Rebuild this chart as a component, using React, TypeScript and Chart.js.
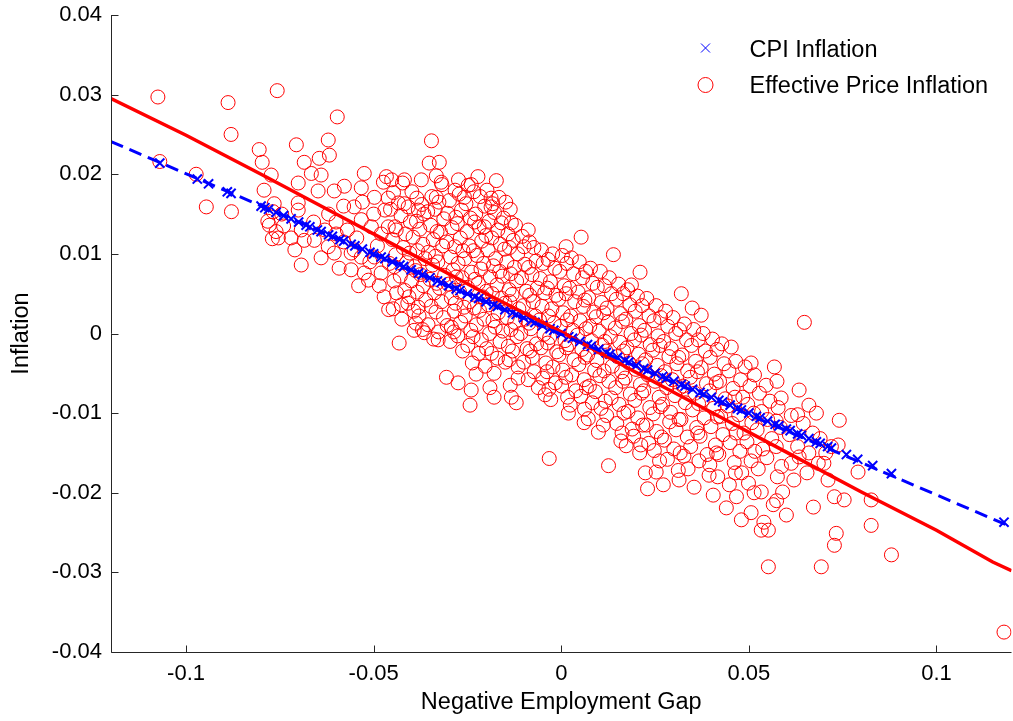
import React, { useEffect, useRef } from "react";
import { Chart, registerables } from "chart.js";
Chart.register(...registerables);

const FONT = '"Liberation Sans", Arial, sans-serif';

const xTicks = [-0.1, -0.05, 0, 0.05, 0.1];
const yTicks = [-0.04, -0.03, -0.02, -0.01, 0, 0.01, 0.02, 0.03, 0.04];
const xTitle = "Negative Employment Gap";
const yTitle = "Inflation";
const cpiLabel = "CPI Inflation";
const effLabel = "Effective Price Inflation";

// Effective price inflation scatter: [negative employment gap, inflation]
const effectivePrice: [number, number][] = [
  [-0.1075,0.0297],[-0.1070,0.0216],[-0.0973,0.0200],[-0.0946,0.0159],[-0.0888,0.0290],[-0.0880,0.0250],[-0.0879,0.0153],
  [-0.0805,0.0231],[-0.0797,0.0215],[-0.0792,0.0180],[-0.0773,0.0199],[-0.0765,0.0163],[-0.0782,0.0141],[-0.0760,0.0128],[-0.0757,0.0305],[-0.0745,0.0150],[-0.0770,0.0119],
  [-0.0701,0.0155],[-0.0778,0.0136],[-0.0685,0.0117],[-0.0754,0.0120],[-0.0768,0.0153],[-0.0693,0.0130],
  [-0.0645,0.0220],[-0.0621,0.0243],[-0.0618,0.0224],[-0.0666,0.0201],[-0.0685,0.0215],[-0.0706,0.0237],[-0.0640,0.0199],[-0.0648,0.0179],[-0.0605,0.0179],[-0.0701,0.0189],[-0.0701,0.0164],[-0.0597,0.0272],
  [-0.0600,0.0140],[-0.0570,0.0130],[-0.0580,0.0115],[-0.0545,0.0120],[-0.0560,0.0080],[-0.0540,0.0060],[-0.0510,0.0090],[-0.0490,0.0110],[-0.0500,0.0150],[-0.0580,0.0160],[-0.0620,0.0150],[-0.0600,0.0125],[-0.0660,0.0140],[-0.0630,0.0130],[-0.0720,0.0120],[-0.0740,0.0135],[-0.0710,0.0105],
  [-0.0578,0.0185],[-0.0498,0.0171],[-0.0552,0.0159],[-0.0533,0.0143],[-0.0506,0.0134],[-0.0461,0.0134],[-0.0440,0.0130],[-0.0498,0.0096],[-0.0525,0.0076],[-0.0480,0.0076],[-0.0445,0.0084],[-0.0514,0.0067],[-0.0472,0.0046],[-0.0426,0.0036],[-0.0381,0.0033],[-0.0392,0.0004],[-0.0365,0.0001],[-0.0432,-0.0012],[-0.0328,-0.0008],[-0.0293,0.0008],[-0.0560,0.0101],[-0.0533,0.0096],[-0.0605,0.0101],[-0.0621,0.0109],[-0.0658,0.0117],[-0.0640,0.0095],[-0.0693,0.0086],[-0.0592,0.0082],[-0.0552,0.0105],
  [-0.0525,0.0201],[-0.0466,0.0197],[-0.0474,0.0190],[-0.0418,0.0193],[-0.0373,0.0193],[-0.0320,0.0190],[-0.0274,0.0193],[-0.0240,0.0187],[-0.0346,0.0242],[-0.0325,0.0215],[-0.0533,0.0183],[-0.0461,0.0170],[-0.0434,0.0164],[-0.0408,0.0159],[-0.0381,0.0155],[-0.0333,0.0171],[-0.0258,0.0171],[-0.0187,0.0170],[-0.0187,0.0159],[-0.0160,0.0139],[-0.0205,0.0134],[-0.0099,0.0109],
  [-0.0452,0.0193],[-0.0447,0.0177],[-0.0455,0.0156],[-0.0443,0.0134],[-0.0450,0.0118],[-0.0441,0.0099],[-0.0458,0.0088],[-0.0446,0.0066],[-0.0439,0.0051],[-0.0448,0.0031],
  [-0.0423,0.0189],[-0.0418,0.0163],[-0.0427,0.0148],[-0.0415,0.0125],[-0.0421,0.0108],[-0.0412,0.0089],[-0.0429,0.0072],[-0.0417,0.0054],[-0.0409,0.0038],[-0.0425,0.0018],
  [-0.0398,0.0178],[-0.0402,0.0140],[-0.0395,0.0121],[-0.0404,0.0101],[-0.0391,0.0084],[-0.0399,0.0066],[-0.0406,0.0046],[-0.0393,0.0028],
  [-0.0372,0.0162],[-0.0366,0.0150],[-0.0377,0.0131],[-0.0369,0.0112],[-0.0363,0.0094],[-0.0375,0.0074],[-0.0368,0.0060],[-0.0361,0.0042],[-0.0379,0.0022],[-0.0370,0.0005],
  [-0.0352,0.0214],[-0.0345,0.0172],[-0.0356,0.0153],[-0.0348,0.0136],[-0.0341,0.0118],[-0.0354,0.0102],[-0.0343,0.0086],[-0.0350,0.0068],[-0.0338,0.0051],[-0.0347,0.0034],[-0.0355,0.0011],[-0.0340,-0.0007],
  [-0.0318,0.0187],[-0.0326,0.0165],[-0.0313,0.0144],[-0.0322,0.0127],[-0.0316,0.0110],[-0.0329,0.0090],[-0.0311,0.0073],[-0.0324,0.0057],[-0.0319,0.0040],[-0.0314,0.0020],[-0.0327,0.0002],
  [-0.0298,0.0167],[-0.0303,0.0151],[-0.0291,0.0133],[-0.0306,0.0115],[-0.0295,0.0096],[-0.0288,0.0080],[-0.0301,0.0062],[-0.0293,0.0045],[-0.0285,0.0028],[-0.0304,0.0010],[-0.0296,-0.0010],[-0.0306,-0.0055],
  [-0.0272,0.0175],[-0.0266,0.0155],[-0.0277,0.0138],[-0.0269,0.0120],[-0.0262,0.0104],[-0.0275,0.0088],[-0.0264,0.0070],[-0.0271,0.0052],[-0.0259,0.0033],[-0.0268,0.0014],[-0.0276,-0.0003],[-0.0263,-0.0022],[-0.0275,-0.0062],
  [-0.0248,0.0186],[-0.0254,0.0163],[-0.0242,0.0145],[-0.0251,0.0128],[-0.0245,0.0110],[-0.0257,0.0094],[-0.0239,0.0077],[-0.0250,0.0058],[-0.0244,0.0040],[-0.0256,0.0022],[-0.0241,0.0004],[-0.0249,-0.0015],[-0.0237,-0.0037],[-0.0240,-0.0071],[-0.0243,-0.0090],[-0.0227,-0.0051],
  [-0.0222,0.0197],[-0.0216,0.0172],[-0.0228,0.0150],[-0.0219,0.0134],[-0.0212,0.0116],[-0.0225,0.0098],[-0.0214,0.0081],[-0.0221,0.0063],[-0.0209,0.0046],[-0.0218,0.0029],[-0.0226,0.0011],[-0.0213,-0.0008],[-0.0220,-0.0025],
  [-0.0198,0.0180],[-0.0204,0.0160],[-0.0192,0.0141],[-0.0201,0.0123],[-0.0195,0.0105],[-0.0207,0.0088],[-0.0189,0.0071],[-0.0200,0.0053],[-0.0194,0.0036],[-0.0206,0.0018],[-0.0191,0.0000],[-0.0199,-0.0019],[-0.0203,-0.0041],[-0.0190,-0.0068],
  [-0.0173,0.0192],[-0.0166,0.0171],[-0.0178,0.0152],[-0.0169,0.0130],[-0.0162,0.0112],[-0.0175,0.0094],[-0.0164,0.0078],[-0.0171,0.0061],[-0.0159,0.0044],[-0.0168,0.0026],[-0.0176,0.0008],[-0.0163,-0.0010],[-0.0170,-0.0031],[-0.0179,-0.0050],[-0.0179,-0.0080],
  [-0.0148,0.0165],[-0.0154,0.0145],[-0.0142,0.0125],[-0.0151,0.0106],[-0.0145,0.0090],[-0.0157,0.0072],[-0.0139,0.0055],[-0.0150,0.0038],[-0.0144,0.0020],[-0.0156,0.0003],[-0.0141,-0.0016],[-0.0149,-0.0036],
  [-0.0133,0.0139],[-0.0122,0.0136],[-0.0128,0.0117],[-0.0116,0.0100],[-0.0125,0.0083],[-0.0119,0.0066],[-0.0131,0.0049],[-0.0113,0.0031],[-0.0124,0.0014],[-0.0118,-0.0004],[-0.0130,-0.0022],[-0.0115,-0.0042],[-0.0115,-0.0056],[-0.0133,-0.0080],[-0.0120,-0.0087],
  [-0.0104,0.0122],[-0.0097,0.0087],[-0.0106,0.0070],[-0.0093,0.0053],[-0.0101,0.0035],[-0.0095,0.0018],[-0.0108,0.0000],[-0.0091,-0.0019],[-0.0100,-0.0036],
  [-0.0088,0.0130],[-0.0073,0.0108],[-0.0067,0.0091],[-0.0078,0.0074],[-0.0064,0.0057],[-0.0075,0.0040],[-0.0069,0.0022],[-0.0081,0.0006],[-0.0066,-0.0013],[-0.0077,-0.0030],[-0.0061,-0.0068],[-0.0072,-0.0048],
  [-0.0053,0.0105],[-0.0048,0.0088],[-0.0056,0.0069],[-0.0044,0.0051],[-0.0051,0.0034],[-0.0058,0.0017],[-0.0046,-0.0001],[-0.0054,-0.0018],[-0.0041,-0.0037],[-0.0049,-0.0056],[-0.0043,-0.0077],[-0.0032,-0.0157],
  [-0.0023,0.0100],[-0.0017,0.0082],[-0.0029,0.0065],[-0.0014,0.0048],[-0.0025,0.0031],[-0.0019,0.0013],[-0.0031,-0.0005],[-0.0012,-0.0023],[-0.0022,-0.0042],[-0.0016,-0.0062],[-0.0028,-0.0083],
  [0.0003,0.0098],[-0.0004,0.0078],[0.0008,0.0060],[-0.0007,0.0043],[0.0005,0.0026],[-0.0002,0.0009],[0.0010,-0.0009],[-0.0006,-0.0027],[0.0004,-0.0046],[0.0001,-0.0066],[0.0019,-0.0100],[0.0013,0.0109],
  [0.0027,0.0095],[0.0033,0.0075],[0.0022,0.0057],[0.0036,0.0040],[0.0025,0.0022],[0.0031,0.0004],[0.0020,-0.0014],[0.0034,-0.0033],[0.0028,-0.0052],[0.0039,-0.0072],[0.0024,-0.0090],
  [0.0053,0.0121],[0.0048,0.0090],[0.0057,0.0070],[0.0045,0.0052],[0.0059,0.0034],[0.0050,0.0016],[0.0043,-0.0002],[0.0055,-0.0020],[0.0047,-0.0039],[0.0061,-0.0058],[0.0052,-0.0079],[0.0061,-0.0112],
  [0.0078,0.0082],[0.0084,0.0063],[0.0073,0.0045],[0.0087,0.0027],[0.0076,0.0009],[0.0081,-0.0009],[0.0070,-0.0027],[0.0089,-0.0046],[0.0075,-0.0066],[0.0083,-0.0087],[0.0072,-0.0107],
  [0.0099,-0.0124],[0.0104,0.0078],[0.0096,0.0058],[0.0107,0.0039],[0.0093,0.0021],[0.0101,0.0003],[0.0109,-0.0015],[0.0095,-0.0034],[0.0103,-0.0053],[0.0091,-0.0073],[0.0106,-0.0094],
  [0.0128,0.0070],[0.0134,0.0050],[0.0122,0.0032],[0.0139,0.0099],[0.0125,0.0014],[0.0131,-0.0004],[0.0119,-0.0022],[0.0136,-0.0041],[0.0127,-0.0060],[0.0133,-0.0081],[0.0121,-0.0103],[0.0126,-0.0166],
  [0.0153,0.0062],[0.0147,0.0043],[0.0158,0.0025],[0.0144,0.0007],[0.0156,-0.0011],[0.0150,-0.0029],[0.0161,-0.0048],[0.0145,-0.0068],[0.0154,-0.0089],[0.0148,-0.0113],[0.0159,-0.0135],
  [0.0187,0.0061],[0.0177,0.0055],[0.0183,0.0036],[0.0172,0.0018],[0.0186,0.0000],[0.0175,-0.0018],[0.0181,-0.0037],[0.0170,-0.0056],[0.0184,-0.0076],[0.0178,-0.0098],[0.0189,-0.0120],[0.0173,-0.0141],
  [0.0210,0.0077],[0.0203,0.0047],[0.0197,0.0028],[0.0208,0.0010],[0.0195,-0.0008],[0.0206,-0.0026],[0.0199,-0.0045],[0.0211,-0.0064],[0.0196,-0.0084],[0.0204,-0.0106],[0.0193,-0.0129],[0.0209,-0.0150],
  [0.0228,0.0044],[0.0234,0.0022],[0.0222,0.0004],[0.0237,-0.0014],[0.0225,-0.0033],[0.0231,-0.0052],[0.0220,-0.0072],[0.0236,-0.0093],[0.0227,-0.0115],[0.0233,-0.0138],[0.0224,-0.0175],[0.0230,-0.0195],
  [0.0253,0.0035],[0.0247,0.0016],[0.0258,-0.0003],[0.0244,-0.0021],[0.0256,-0.0040],[0.0250,-0.0060],[0.0261,-0.0080],[0.0245,-0.0101],[0.0254,-0.0123],[0.0248,-0.0147],[0.0253,-0.0174],
  [0.0278,0.0028],[0.0284,0.0009],[0.0273,-0.0010],[0.0287,-0.0029],[0.0276,-0.0048],[0.0281,-0.0068],[0.0270,-0.0089],[0.0289,-0.0111],[0.0275,-0.0134],[0.0283,-0.0158],[0.0272,-0.0190],
  [0.0320,0.0050],[0.0298,0.0020],[0.0305,0.0000],[0.0293,-0.0019],[0.0308,-0.0038],[0.0296,-0.0058],[0.0303,-0.0078],[0.0291,-0.0099],[0.0306,-0.0121],[0.0300,-0.0145],[0.0314,-0.0184],
  [0.0328,0.0012],[0.0334,-0.0008],[0.0322,-0.0027],[0.0337,-0.0047],[0.0325,-0.0066],[0.0331,-0.0087],[0.0319,-0.0108],[0.0336,-0.0130],[0.0327,-0.0154],[0.0338,-0.0170],
  [0.0349,0.0032],[0.0353,0.0005],[0.0347,-0.0015],[0.0358,-0.0035],[0.0344,-0.0055],[0.0356,-0.0075],[0.0350,-0.0096],[0.0361,-0.0118],[0.0345,-0.0142],[0.0354,-0.0193],
  [0.0373,0.0023],[0.0378,0.0000],[0.0384,-0.0022],[0.0373,-0.0043],[0.0387,-0.0063],[0.0376,-0.0084],[0.0381,-0.0106],[0.0370,-0.0129],[0.0389,-0.0152],[0.0394,-0.0178],
  [0.0403,-0.0007],[0.0397,-0.0030],[0.0408,-0.0051],[0.0395,-0.0072],[0.0406,-0.0094],[0.0399,-0.0117],[0.0411,-0.0140],[0.0396,-0.0165],[0.0405,-0.0203],
  [0.0428,-0.0013],[0.0434,-0.0038],[0.0422,-0.0060],[0.0437,-0.0082],[0.0425,-0.0104],[0.0431,-0.0127],[0.0420,-0.0152],[0.0440,-0.0219],
  [0.0453,-0.0017],[0.0447,-0.0047],[0.0458,-0.0069],[0.0444,-0.0091],[0.0456,-0.0113],[0.0450,-0.0137],[0.0461,-0.0162],[0.0448,-0.0190],
  [0.0490,-0.0042],[0.0478,-0.0058],[0.0484,-0.0080],[0.0473,-0.0102],[0.0487,-0.0125],[0.0476,-0.0148],[0.0481,-0.0175],[0.0480,-0.0234],
  [0.0506,-0.0037],[0.0503,-0.0066],[0.0497,-0.0089],[0.0508,-0.0112],[0.0495,-0.0136],[0.0506,-0.0160],[0.0499,-0.0188],[0.0506,-0.0225],
  [0.0528,-0.0075],[0.0534,-0.0098],[0.0522,-0.0121],[0.0537,-0.0145],[0.0525,-0.0170],[0.0533,-0.0199],[0.0540,-0.0237],[0.0533,-0.0247],[0.0552,-0.0247],
  [0.0546,-0.0065],[0.0568,-0.0042],[0.0556,-0.0085],[0.0550,-0.0108],[0.0561,-0.0132],[0.0548,-0.0156],[0.0565,-0.0215],[0.0552,-0.0293],
  [0.0586,-0.0081],[0.0578,-0.0093],[0.0584,-0.0118],[0.0573,-0.0142],[0.0587,-0.0167],[0.0590,-0.0199],[0.0600,-0.0228],
  [0.0634,-0.0071],[0.0613,-0.0103],[0.0608,-0.0127],[0.0630,-0.0102],[0.0645,-0.0113],[0.0630,-0.0142],[0.0613,-0.0163],[0.0620,-0.0184],[0.0634,-0.0155],
  [0.0648,0.0014],[0.0685,-0.0163],[0.0700,-0.0163],[0.0711,-0.0184],[0.0728,-0.0205],[0.0672,-0.0218],[0.0754,-0.0209],[0.0741,-0.0109],[0.0738,-0.0140],[0.0720,-0.0142],
  [0.0791,-0.0174],[0.0826,-0.0209],[0.0826,-0.0241],[0.0733,-0.0251],[0.0728,-0.0266],[0.0880,-0.0278],[0.0693,-0.0293],[0.0670,-0.0125],[0.0690,-0.0132],[0.0705,-0.0150],
  [0.0680,-0.0100],[0.0660,-0.0090],[0.0660,-0.0150],[0.0655,-0.0175],[0.1180,-0.0375],
  [-0.0385,0.0170],[-0.0386,0.0141],[-0.0383,0.0104],[-0.0388,0.0079],[-0.0384,0.0052],[-0.0387,0.0013],
  [-0.0333,0.0198],[-0.0336,0.0156],[-0.0331,0.0128],[-0.0335,0.0097],[-0.0332,0.0063],[-0.0334,0.0027],
  [-0.0283,0.0180],[-0.0281,0.0146],[-0.0284,0.0109],[-0.0280,0.0071],[-0.0282,0.0038],[-0.0286,0.0002],
  [-0.0233,0.0178],[-0.0231,0.0140],[-0.0234,0.0104],[-0.0230,0.0068],[-0.0232,0.0032],[-0.0235,-0.0004],
  [-0.0183,0.0163],[-0.0185,0.0120],[-0.0181,0.0085],[-0.0184,0.0050],[-0.0182,0.0016],[-0.0186,-0.0025],
  [-0.0136,0.0156],[-0.0138,0.0108],[-0.0135,0.0075],[-0.0137,0.0040],[-0.0134,0.0005],[-0.0139,-0.0033],[-0.0136,-0.0065],
  [-0.0085,0.0115],[-0.0087,0.0083],[-0.0084,0.0048],[-0.0086,0.0013],[-0.0083,-0.0022],[-0.0088,-0.0058],
  [-0.0035,0.0093],[-0.0037,0.0057],[-0.0034,0.0022],[-0.0036,-0.0012],[-0.0038,-0.0048],[-0.0033,-0.0070],
  [0.0015,0.0088],[0.0013,0.0050],[0.0016,0.0017],[0.0014,-0.0018],[0.0012,-0.0055],[0.0017,-0.0080],
  [0.0065,0.0078],[0.0063,0.0042],[0.0066,0.0006],[0.0064,-0.0030],[0.0067,-0.0068],[0.0062,-0.0095],
  [0.0115,0.0060],[0.0113,0.0026],[0.0116,-0.0010],[0.0114,-0.0047],[0.0117,-0.0085],[0.0112,-0.0115],
  [0.0165,0.0050],[0.0163,0.0015],[0.0166,-0.0022],[0.0164,-0.0060],[0.0167,-0.0100],[0.0162,-0.0125],
  [0.0215,0.0035],[0.0213,-0.0002],[0.0216,-0.0038],[0.0214,-0.0075],[0.0217,-0.0115],[0.0212,-0.0140],
  [0.0265,0.0020],[0.0263,-0.0015],[0.0266,-0.0053],[0.0264,-0.0092],[0.0267,-0.0130],[0.0262,-0.0160],
  [0.0315,0.0005],[0.0313,-0.0030],[0.0316,-0.0068],[0.0314,-0.0108],[0.0317,-0.0150],[0.0312,-0.0172],
  [0.0365,-0.0008],[0.0363,-0.0048],[0.0366,-0.0088],[0.0364,-0.0125],[0.0367,-0.0160],
  [0.0415,-0.0020],[0.0413,-0.0062],[0.0416,-0.0105],[0.0414,-0.0150],[0.0417,-0.0180],
  [0.0465,-0.0035],[0.0463,-0.0080],[0.0466,-0.0125],[0.0464,-0.0175],[0.0467,-0.0205],
  [0.0515,-0.0052],[0.0513,-0.0100],[0.0516,-0.0148],[0.0514,-0.0200],
  [0.0575,-0.0060],[0.0573,-0.0110],[0.0576,-0.0180],[0.0574,-0.0210],
  [-0.0480,0.0125],[-0.0485,0.0060],[-0.0530,0.0165],[-0.0470,0.0155],[-0.0460,0.0030],
];

// CPI inflation observations
const cpiX = [-0.107,-0.097,-0.094,-0.089,-0.088,-0.080,-0.079,-0.078,-0.076,-0.074,-0.072,-0.070,-0.068,-0.067,-0.065,-0.064,-0.062,-0.061,-0.059,-0.058,-0.056,-0.055,-0.053,-0.051,-0.050,-0.048,-0.047,-0.045,-0.043,-0.042,-0.040,-0.038,-0.037,-0.035,-0.033,-0.032,-0.030,-0.028,-0.027,-0.025,-0.023,-0.022,-0.020,-0.018,-0.017,-0.015,-0.013,-0.012,-0.010,-0.008,-0.007,-0.005,-0.003,-0.002,0.000,0.002,0.003,0.005,0.007,0.008,0.010,0.012,0.013,0.015,0.017,0.018,0.020,0.022,0.023,0.025,0.027,0.028,0.030,0.032,0.033,0.035,0.037,0.038,0.040,0.042,0.043,0.045,0.047,0.048,0.050,0.052,0.053,0.055,0.057,0.058,0.060,0.061,0.063,0.064,0.066,0.068,0.069,0.071,0.072,0.076,0.079,0.083,0.088,0.118];
const cpiY = [0.0214,0.0194,0.0188,0.0178,0.0176,0.0160,0.0158,0.0156,0.0152,0.0148,0.0144,0.0140,0.0136,0.0134,0.0130,0.0128,0.0124,0.0122,0.0118,0.0116,0.0112,0.0110,0.0106,0.0102,0.0100,0.0096,0.0094,0.0090,0.0086,0.0084,0.0080,0.0076,0.0074,0.0070,0.0066,0.0064,0.0060,0.0056,0.0054,0.0050,0.0046,0.0044,0.0040,0.0036,0.0034,0.0030,0.0026,0.0024,0.0020,0.0016,0.0014,0.0010,0.0006,0.0004,0.0000,-0.0004,-0.0006,-0.0010,-0.0014,-0.0016,-0.0020,-0.0024,-0.0026,-0.0030,-0.0034,-0.0036,-0.0040,-0.0044,-0.0046,-0.0050,-0.0054,-0.0056,-0.0060,-0.0064,-0.0066,-0.0070,-0.0074,-0.0076,-0.0080,-0.0084,-0.0086,-0.0090,-0.0094,-0.0096,-0.0100,-0.0104,-0.0106,-0.0110,-0.0114,-0.0116,-0.0120,-0.0122,-0.0126,-0.0128,-0.0132,-0.0136,-0.0138,-0.0142,-0.0144,-0.0152,-0.0158,-0.0166,-0.0176,-0.0237];

// Fitted lines
const cpiFitX = [-0.12, 0.12];
const cpiFitY = [0.0241, -0.0243];
const effFitX = [-0.12,-0.1,-0.08,-0.06,-0.04,-0.02,0,0.02,0.04,0.06,0.08,0.1,0.115,0.12];
const effFitY = [0.0295,0.0249,0.0200,0.0150,0.0100,0.0050,0.0002,-0.0049,-0.0099,-0.0149,-0.0199,-0.0247,-0.0287,-0.0298];

const RED = "#ff0000";
const BLUE = "#0000ff";
const AXIS = "#262626";

const fmt = (v: number) => {
  const n = Number(v);
  if (Math.abs(n) < 1e-12) return "0";
  return String(parseFloat(n.toFixed(3)));
};

const axesPlugin = {
  id: "matlabAxes",
  afterDatasetsDraw(chart: any) {
    const { ctx, chartArea: a, scales } = chart;
    const xs = scales.x, ys = scales.y;
    ctx.save();
    ctx.strokeStyle = AXIS;
    ctx.lineWidth = 1;
    const L = Math.round(a.left) + 0.5;
    const B = Math.round(a.bottom) + 0.5;
    ctx.beginPath();
    ctx.moveTo(L, a.top);
    ctx.lineTo(L, B);
    ctx.lineTo(a.right, B);
    xTicks.forEach((v) => {
      const p = Math.round(xs.getPixelForValue(v)) + 0.5;
      ctx.moveTo(p, B);
      ctx.lineTo(p, B - 7);
    });
    yTicks.forEach((v) => {
      const p = Math.round(ys.getPixelForValue(v)) + 0.5;
      ctx.moveTo(L, p);
      ctx.lineTo(L + 7, p);
    });
    ctx.stroke();

    // legend
    const mx = a.right - 306;
    const tx = a.right - 262;
    ctx.strokeStyle = BLUE;
    ctx.lineWidth = 1;
    ctx.beginPath();
    ctx.moveTo(mx - 4.5, 43.5); ctx.lineTo(mx + 4.5, 52.5);
    ctx.moveTo(mx + 4.5, 43.5); ctx.lineTo(mx - 4.5, 52.5);
    ctx.stroke();
    ctx.strokeStyle = RED;
    ctx.beginPath();
    ctx.arc(mx, 85, 7.5, 0, Math.PI * 2);
    ctx.stroke();
    ctx.fillStyle = "#000";
    ctx.font = `23.5px ${FONT}`;
    ctx.textAlign = "left";
    ctx.textBaseline = "alphabetic";
    ctx.fillText(cpiLabel, tx, 57);
    ctx.fillText(effLabel, tx, 93);
    ctx.restore();
  },
};

const CANVAS_W = 1020;
const CANVAS_H = 721;

export default function App() {
  const ref = useRef<HTMLCanvasElement | null>(null);
  useEffect(() => {
    if (!ref.current) return;
    const chart = new Chart(ref.current, {
      type: "scatter",
      data: {
        datasets: [
          {
            label: "CPI fit",
            data: cpiFitX.map((x, i) => ({ x, y: cpiFitY[i] })),
            showLine: true,
            borderColor: BLUE,
            borderWidth: 3,
            borderDash: [13, 7],
            pointRadius: 0,
            order: 1,
          },
          {
            label: "Effective price fit",
            data: effFitX.map((x, i) => ({ x, y: effFitY[i] })),
            showLine: true,
            borderColor: RED,
            borderWidth: 3.5,
            pointRadius: 0,
            order: 2,
          },
          {
            label: cpiLabel,
            data: cpiX.map((x, i) => ({ x, y: cpiY[i] })),
            pointStyle: "crossRot",
            pointRadius: 6.5,
            borderColor: BLUE,
            backgroundColor: BLUE,
            pointBorderWidth: 2,
            order: 3,
          },
          {
            label: effLabel,
            data: effectivePrice.map(([x, y]) => ({ x, y })),
            pointStyle: "circle",
            pointRadius: 7,
            borderColor: RED,
            backgroundColor: "rgba(0,0,0,0)",
            pointBorderWidth: 1,
            order: 4,
          },
        ],
      },
      options: {
        animation: false,
        responsive: false,
        maintainAspectRatio: false,
        layout: { padding: { top: 15, right: 2, left: 0, bottom: 0 } },
        plugins: {
          legend: { display: false },
          tooltip: { enabled: false },
          title: { display: false },
        },
        scales: {
          x: {
            type: "linear",
            min: -0.12,
            max: 0.12,
            afterBuildTicks: (s: any) => {
              s.ticks = xTicks.map((v) => ({ value: v }));
            },
            afterFit: (s: any) => {
              s.height = 69;
              s.paddingLeft = 0;
              s.paddingRight = 0;
            },
            grid: { display: false, drawTicks: false },
            border: { display: false },
            ticks: {
              padding: 9,
              maxRotation: 0,
              autoSkip: false,
              color: "#000",
              font: { family: FONT, size: 22 },
              callback: (v: any) => fmt(v),
            },
            title: {
              display: true,
              text: xTitle,
              color: "#000",
              font: { family: FONT, size: 23.5 },
              padding: { top: 0, bottom: 4 },
            },
          },
          y: {
            type: "linear",
            min: -0.04,
            max: 0.04,
            afterBuildTicks: (s: any) => {
              s.ticks = yTicks.map((v) => ({ value: v }));
            },
            afterFit: (s: any) => {
              s.width = 111;
              s.paddingTop = 0;
              s.paddingBottom = 0;
            },
            grid: { display: false, drawTicks: false },
            border: { display: false },
            ticks: {
              padding: 9,
              autoSkip: false,
              color: "#000",
              font: { family: FONT, size: 22 },
              callback: (v: any) => fmt(v),
            },
            title: {
              display: true,
              text: yTitle,
              color: "#000",
              font: { family: FONT, size: 23.5 },
              padding: { top: 7, bottom: 0 },
            },
          },
        },
      },
      plugins: [axesPlugin],
    });
    return () => chart.destroy();
  }, []);

  return (
    <div style={{ position: "fixed", left: 0, top: 0, width: 1013, height: 721, overflow: "hidden", background: "#fff" }}>
      <canvas ref={ref} width={CANVAS_W} height={CANVAS_H} style={{ display: "block", width: CANVAS_W, height: CANVAS_H }} />
    </div>
  );
}
